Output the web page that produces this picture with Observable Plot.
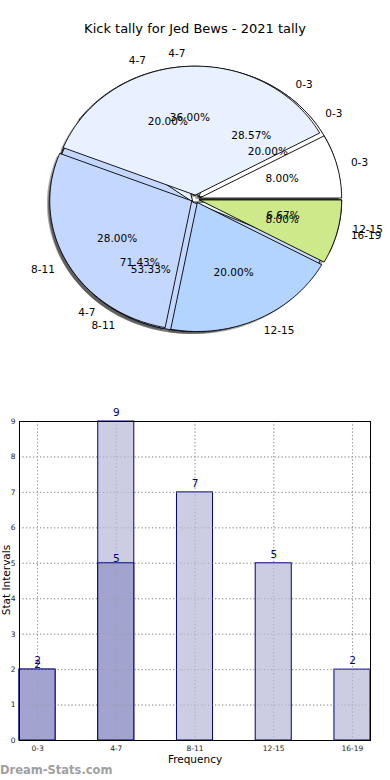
<!DOCTYPE html>
<html><head><meta charset="utf-8">
<script src="https://cdn.jsdelivr.net/npm/d3@7"></script>
<script src="https://cdn.jsdelivr.net/npm/@observablehq/plot@0.6"></script>
<style>
body{margin:0;background:#fff;font-family:"DejaVu Sans",sans-serif;}
#wrap{position:relative;width:390px;height:780px;overflow:hidden;}
#wrap > div{position:absolute;}
.t{white-space:nowrap;color:#000;}
</style></head>
<body><div id="wrap">
<div id="pie" style="left:0;top:0;"></div>
<div id="bar" style="left:0;top:400px;"></div>
<div class="t" id="title" style="left:0;width:390px;top:21px;text-align:center;font-size:13px;">Kick tally for Jed Bews - 2021 tally</div>
<div class="t" id="ylab" style="left:-36px;top:574px;width:84px;text-align:center;font-size:10.5px;transform:rotate(-90deg);">Stat Intervals</div>
<div class="t" id="xlab" style="left:0;width:390px;top:753px;text-align:center;font-size:10.5px;">Frequency</div>
<div class="t" id="wm" style="left:0;top:763px;font-size:11.5px;font-weight:bold;color:#a0a0a0;">Dream-Stats.com</div>
</div>
<script>
// ---- data ----
const categories = ["0-3", "4-7", "8-11", "12-15", "16-19"];
const seriesA = [2, 9, 7, 5, 2];   // light bars / top pie
const seriesB = [2, 5, 0, 0, 0];   // dark bars / second pie
const seriesC = [3, 3, 8, 1, 0];   // third pie
const sliceColors = ["#ffffff", "#e9f0ff", "#c4d8ff", "#b3d4ff", "#cde98a"];
const barColors = {A: "#ccccE3", B: "#a3a3cf"};
const yTicks = [0,1,2,3,4,5,6,7,8,9];

// ---- pie geometry (data space: unit radius) ----
const pies = [
  {id: "B", values: seriesB, explode: 0.03},
  {id: "C", values: seriesC, explode: 0.03},
  {id: "A", values: seriesA, explode: 0.03}
];
const wedgePts = [], shadowPts = [], pctLabels = [], catLabels = [];
pies.forEach(p => {
  const total = d3.sum(p.values);
  let a = 0;
  p.values.forEach((v, i) => {
    if (!v) return;
    const a0 = a, a1 = a + v / total * 360; a = a1;
    const mid = (a0 + a1) / 2 * Math.PI / 180;
    const cx = p.explode * Math.cos(mid), cy = p.explode * Math.sin(mid);
    const id = p.id + i;
    const pts = [[cx, cy]];
    const n = Math.max(2, Math.ceil(a1 - a0));
    for (let k = 0; k <= n; k++) {
      const t = (a0 + (a1 - a0) * k / n) * Math.PI / 180;
      pts.push([cx + Math.cos(t), cy + Math.sin(t)]);
    }
    pts.push([cx, cy]);
    pts.forEach(([x, y]) => {
      wedgePts.push({id, x, y, color: sliceColors[i]});
      shadowPts.push({id, x: x - 0.02, y: y - 0.02});
    });
    pctLabels.push({x: cx + 0.6 * Math.cos(mid), y: cy + 0.6 * Math.sin(mid), text: (v / total * 100).toFixed(2) + "%"});
    const lx = cx + 1.1 * Math.cos(mid), ly = cy + 1.1 * Math.sin(mid);
    catLabels.push({x: lx, y: ly, text: categories[i], side: lx > 0 ? "L" : "R"});
  });
});

const pie = Plot.plot({
  width: 390, height: 380,
  margin: 0,
  x: {domain: [-1.3732, 1.3732], axis: null},
  y: {domain: [-1.407, 1.5388], axis: null},
  color: {type: "identity"},
  style: {fontFamily: "DejaVu Sans", background: "transparent"},
  marks: [
    Plot.line(shadowPts, {x: "x", y: "y", z: "id", fill: "#333", fillOpacity: 0.4, stroke: "none", curve: "linear"}),
    Plot.line(wedgePts, {x: "x", y: "y", z: "id", fill: "color", stroke: "#000", strokeWidth: 0.9, curve: "linear"}),
    Plot.text(pctLabels, {x: "x", y: "y", text: "text", fontSize: 10.5, fill: "#000"}),
    Plot.text(catLabels.filter(d => d.side === "L"), {x: "x", y: "y", text: "text", fontSize: 10.5, textAnchor: "start", fill: "#000"}),
    Plot.text(catLabels.filter(d => d.side === "R"), {x: "x", y: "y", text: "text", fontSize: 10.5, textAnchor: "end", fill: "#000"})
  ]
});
document.getElementById("pie").appendChild(pie);

// ---- bar chart ----
const hw = 0.229;
const barsA = seriesA.map((v, i) => ({i, v})).filter(d => d.v > 0);
const barsB = seriesB.map((v, i) => ({i, v})).filter(d => d.v > 0);
const bar = Plot.plot({
  width: 390, height: 380,
  marginTop: 21, marginBottom: 40, marginLeft: 19, marginRight: 20,
  x: {domain: [-hw, categories.length - 1 + hw], ticks: d3.range(categories.length), tickFormat: d => categories[d], tickSize: 0, tickPadding: 5, label: null},
  y: {domain: [0, 9], ticks: yTicks, tickSize: 0, tickPadding: 4, label: null},
  style: {fontFamily: "DejaVu Sans", fontSize: "7.5px", color: "#222", background: "transparent"},
  marks: [
    Plot.ruleY(yTicks, {y: d => d, stroke: "#999", strokeDasharray: "1.2,2.3", strokeWidth: 1}),
    Plot.ruleX(d3.range(categories.length), {x: d => d, stroke: "#999", strokeDasharray: "1.2,2.3", strokeWidth: 1}),
    Plot.rect(barsA, {x1: d => d.i - hw, x2: d => d.i + hw, y1: 0, y2: "v", fill: barColors.A, stroke: "#000080", strokeWidth: 1}),
    Plot.rect(barsB, {x1: d => d.i - hw, x2: d => d.i + hw, y1: 0, y2: "v", fill: barColors.B, stroke: "#000080", strokeWidth: 1}),
    Plot.ruleY(yTicks, {y: d => d, stroke: "#999", strokeDasharray: "1.2,2.3", strokeWidth: 1, strokeOpacity: 0.6}),
    Plot.ruleX(d3.range(categories.length), {x: d => d, stroke: "#999", strokeDasharray: "1.2,2.3", strokeWidth: 1, strokeOpacity: 0.6}),
    Plot.text(barsA, {x: "i", y: "v", text: d => String(d.v), dy: -9, fontSize: 10.5, fill: "#000080"}),
    Plot.text(barsB, {x: "i", y: "v", text: d => String(d.v), dy: -5, fontSize: 10.5, fill: "#000080"}),
    Plot.frame({stroke: "#000", strokeWidth: 1})
  ]
});
document.getElementById("bar").appendChild(bar);
</script>
</body></html>
